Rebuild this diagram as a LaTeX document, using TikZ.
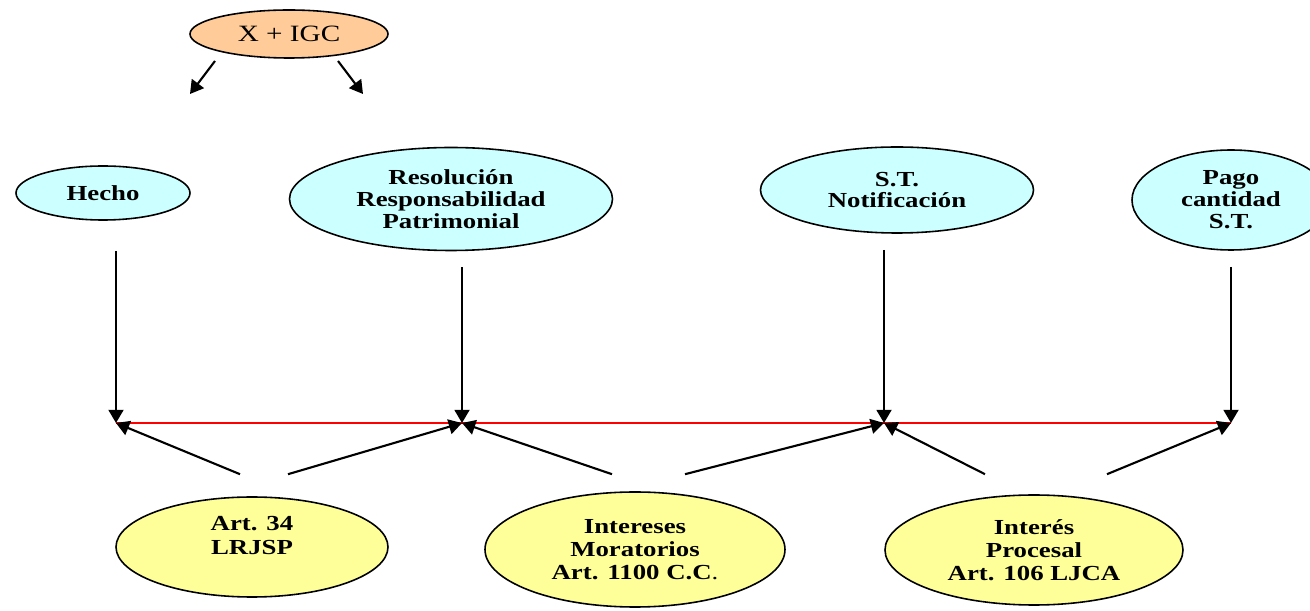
\documentclass[tikz,border=0pt]{standalone}
\usepackage{fontspec}
\setmainfont{Liberation Serif}[FakeStretch=1.25]
\usetikzlibrary{shapes.geometric,arrows.meta}
\definecolor{melocoton}{HTML}{FFCC99}
\definecolor{celeste}{HTML}{CCFFFF}
\definecolor{amarillo}{HTML}{FFFF99}
\begin{document}
\begin{tikzpicture}[
  oval/.style={ellipse, draw, line width=0.9pt, inner sep=0pt, align=center,
    font=\fontsize{12.2}{12.5}\selectfont\bfseries},
  hito/.style={oval, fill=celeste},
  norma/.style={oval, fill=amarillo, font=\fontsize{12.2}{13}\selectfont\bfseries},
  arr/.style={line width=1.2pt, -{Triangle[length=7.5pt,width=8.5pt]}}]
\useasboundingbox (0,0) rectangle (26.2,-12.22);
\node[oval, fill=melocoton, font=\fontsize{13.3}{15}\selectfont,
  minimum width=3.96cm, minimum height=0.96cm] (igc) at (5.78,-0.68) {X + IGC};
\coordinate (izq) at (3.80,-1.88);
\coordinate (der) at (7.26,-1.88);
\draw[arr] ([shift={(-1.48,-0.54)}]igc.center) -- (izq);
\draw[arr] ([shift={(0.98,-0.54)}]igc.center) -- (der);

\node[hito, minimum width=3.48cm, minimum height=1.08cm] (hecho) at (2.06,-3.86) {Hecho};
\node[hito, minimum width=6.46cm, minimum height=2.06cm] (resol) at (9.02,-3.98)
  {Resolución\\Responsabilidad\\Patrimonial};
\node[hito, minimum width=5.46cm, minimum height=1.72cm] (notif) at (17.94,-3.80)
  {S.T.\\Notificación};
\node[hito, minimum width=3.96cm, minimum height=2.0cm] (pago) at (24.62,-4.0)
  {Pago\\cantidad\\S.T.};

\node[norma, minimum width=5.44cm, minimum height=2.0cm] (art34) at (5.04,-10.94)
  {Art. 34\\[1pt]LRJSP\\\mbox{}};
\node[norma, minimum width=6.0cm, minimum height=2.3cm] (morat) at (12.70,-10.99)
  {Intereses\\Moratorios\\Art. 1100 C.C\textmd{.}};
\node[norma, minimum width=5.96cm, minimum height=2.2cm] (proces) at (20.68,-11.0)
  {Interés\\Procesal\\Art. 106 LJCA};

\coordinate (j1) at (2.32,-8.46);
\coordinate (j2) at (9.24,-8.46);
\coordinate (j3) at (17.68,-8.46);
\coordinate (j4) at (24.62,-8.46);
\draw[red, line width=1.2pt] (j1) -- (j4);

\draw[arr, shorten <=0.6cm] (hecho.south -| j1) -- (j1);
\draw[arr, shorten <=0.32cm] (resol.south -| j2) -- (j2);
\draw[arr, shorten <=0.32cm] (notif.south -| j3) -- (j3);
\draw[arr, shorten <=0.32cm] (pago.south -| j4) -- (j4);

\draw[arr] ([shift={(-0.24,0.44)}]art34.north) -- (j1);
\draw[arr] ([shift={(0.72,0.44)}]art34.north) -- (j2);
\draw[arr] ([shift={(-0.46,0.34)}]morat.north) -- (j2);
\draw[arr] ([shift={(1.00,0.34)}]morat.north) -- (j3);
\draw[arr] ([shift={(-0.98,0.40)}]proces.north) -- (j3);
\draw[arr] ([shift={(1.46,0.40)}]proces.north) -- (j4);
\end{tikzpicture}
\end{document}
